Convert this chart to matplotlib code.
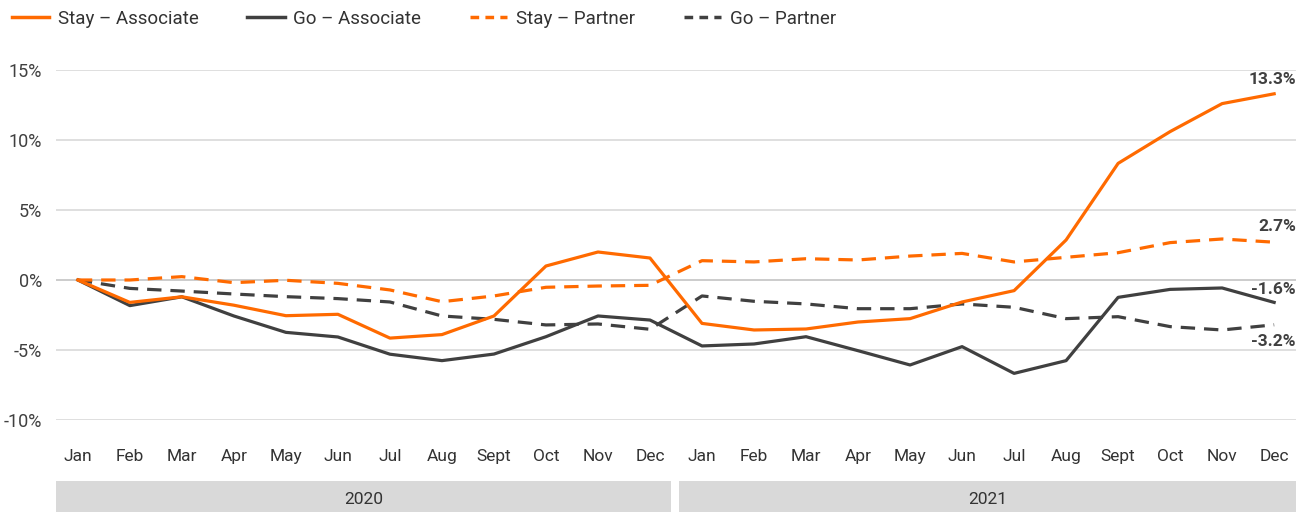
import matplotlib
matplotlib.use('Agg')
import matplotlib.pyplot as plt
from matplotlib.patches import Rectangle
from matplotlib.lines import Line2D

months = ['Jan', 'Feb', 'Mar', 'Apr', 'May', 'Jun', 'Jul', 'Aug', 'Sept', 'Oct', 'Nov', 'Dec'] * 2
years = ['2020', '2021']

stay_associate = [0, -1.6, -1.2, -1.8, -2.55, -2.45, -4.15, -3.9, -2.57, 1.0, 2.0, 1.57,
                  -3.1, -3.57, -3.5, -3.0, -2.76, -1.57, -0.76, 2.86, 8.33, 10.6, 12.6, 13.3]
go_associate = [0, -1.83, -1.2, -2.57, -3.74, -4.07, -5.3, -5.76, -5.29, -4.05, -2.57, -2.86,
                -4.71, -4.57, -4.05, -5.05, -6.07, -4.76, -6.67, -5.76, -1.24, -0.67, -0.57, -1.6]
stay_partner = [0, 0, 0.24, -0.19, -0.02, -0.24, -0.71, -1.55, -1.14, -0.52, -0.43, -0.38,
                1.38, 1.29, 1.52, 1.43, 1.71, 1.9, 1.29, 1.62, 1.95, 2.67, 2.93, 2.7]
go_partner = [0, -0.6, -0.79, -1.0, -1.19, -1.33, -1.57, -2.57, -2.81, -3.21, -3.14, -3.52,
              -1.14, -1.52, -1.71, -2.05, -2.05, -1.71, -1.95, -2.76, -2.62, -3.33, -3.57, -3.2]

orange = '#ff6a00'
dark = '#404040'
plt.rcParams['font.family'] = ['Roboto', 'DejaVu Sans']

fig = plt.figure(figsize=(13.12, 5.12), dpi=100)
ax = fig.add_axes([56/1312, 92/512, 1240/1312, 350/512])

x = list(range(len(months)))
ax.plot(x, stay_associate, color=orange, lw=2.3, label='Stay – Associate', zorder=4)
ax.plot(x, go_associate, color=dark, lw=2.3, label='Go – Associate', zorder=3)
ax.plot(x, stay_partner, color=orange, lw=2.3, dashes=(4.5, 2.8), label='Stay – Partner', zorder=4)
ax.plot(x, go_partner, color=dark, lw=2.3, dashes=(4.5, 2.8), label='Go – Partner', zorder=3)

ax.set_xlim(-0.42, 23.42)
ax.set_ylim(-10, 15)
ax.set_yticks([-10, -5, 0, 5, 10, 15])
ax.set_yticklabels(['%d%%' % v for v in [-10, -5, 0, 5, 10, 15]], fontsize=13, color='#404040')
ax.set_xticks(x)
ax.set_xticklabels(months, fontsize=12.5, color='#333333')
ax.tick_params(axis='both', length=0)
ax.tick_params(axis='x', pad=21)
ax.tick_params(axis='y', pad=10)
for s in ax.spines.values():
    s.set_visible(False)
ax.grid(axis='y', color='#d9d9d9', lw=1.2, zorder=0)
ax.axhline(0, color='#808080', lw=1.2, zorder=1)

# end labels
ends = [(stay_associate[-1], 10), (stay_partner[-1], 11.5),
        (go_associate[-1], 9.5), (go_partner[-1], -12)]
for val, dy in ends:
    ax.annotate('%.1f%%' % val, xy=(23.42, val), xytext=(0, dy), textcoords='offset points',
                ha='right', va='center', fontsize=12.5, fontweight='bold', color='#404040')

# year bands
for i, yr in enumerate(years):
    x0 = 56 if i == 0 else 679
    x1 = 671 if i == 0 else 1296
    fig.patches.append(Rectangle((x0/1312, 0), (x1-x0)/1312, 31/512, transform=fig.transFigure,
                                 facecolor='#d9d9d9', edgecolor='none'))
    fig.text((x0+x1)/2/1312, 12/512, yr, ha='center', va='center', fontsize=12.5, color='#333333')

handles = [Line2D([], [], color=orange, lw=2.5),
           Line2D([], [], color=dark, lw=2.5),
           Line2D([], [], color=orange, lw=2.5, dashes=(2.5, 1.8)),
           Line2D([], [], color=dark, lw=2.5, dashes=(2.5, 1.8))]
fig.legend(handles, ['Stay – Associate', 'Go – Associate', 'Stay – Partner', 'Go – Partner'],
           loc='center left', bbox_to_anchor=(-0.004, 1 - 19/512), ncol=4, frameon=False,
           fontsize=13.5, handlelength=2.0, handletextpad=0.45, columnspacing=2.6, labelcolor='#333333')

fig.savefig('out.png', dpi=100)
